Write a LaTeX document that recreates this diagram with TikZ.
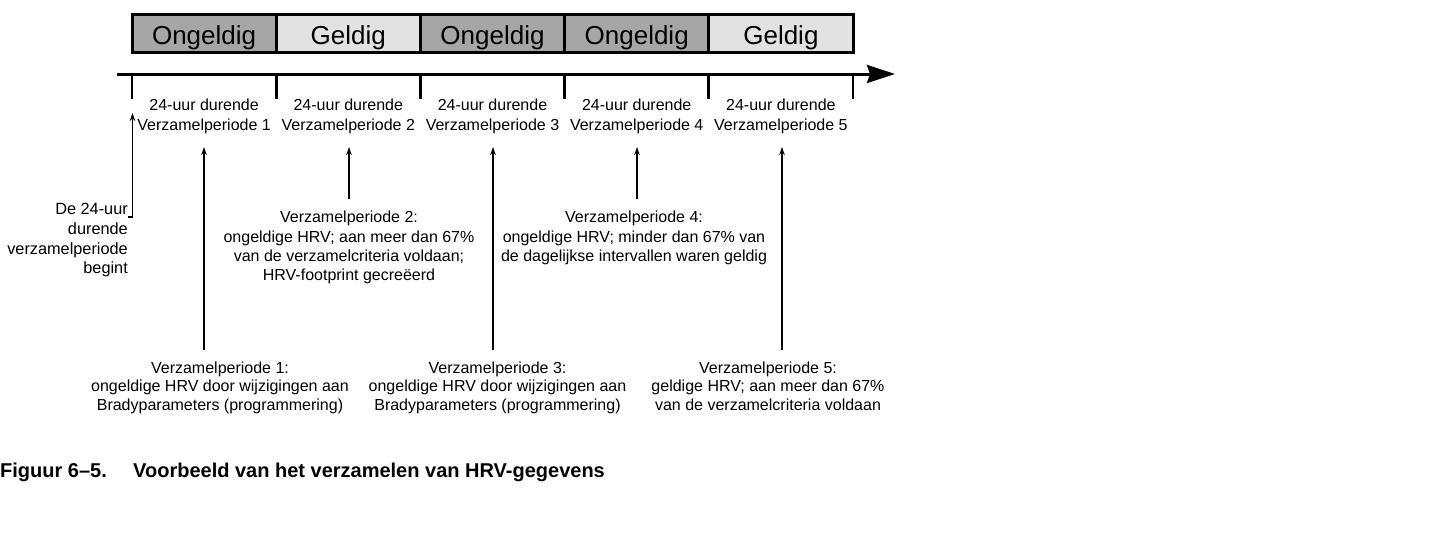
\documentclass[tikz,border=0pt]{standalone}
\usepackage{fontspec}
\setmainfont{Liberation Sans}
\usetikzlibrary{arrows.meta,calc}
\definecolor{ongc}{RGB}{166,166,166}
\definecolor{gelc}{RGB}{226,226,226}
\begin{document}
\begin{tikzpicture}[x=1pt,y=-1pt,
  stat/.style={draw=black, line width=3pt, minimum width=144.2pt, minimum height=38pt,
    inner sep=0pt, text height=22pt, text depth=0pt, font=\fontsize{26}{30}\selectfont},
  ong/.style={stat, fill=ongc},
  gel/.style={stat, fill=gelc},
  plabel/.style={align=center, inner sep=0pt, anchor=north, font=\fontsize{16}{20}\selectfont},
  ann/.style={align=center, inner sep=0pt, anchor=north, font=\fontsize{16}{19.3}\selectfont},
  annb/.style={align=center, inner sep=0pt, anchor=north, font=\fontsize{16}{18.5}\selectfont},
  arr/.style={line width=1.3pt, -{Stealth[length=8pt,width=5.5pt]}},
  tickmark/.style={line width=2.8pt},
]
\useasboundingbox (0,0) rectangle (1432,536);

% status boxes
\node[ong] (b1) at (204.1,33.5) {Ongeldig};
\node[gel] (b2) at (348.3,33.5) {Geldig};
\node[ong] (b3) at (492.5,33.5) {Ongeldig};
\node[ong] (b4) at (636.7,33.5) {Ongeldig};
\node[gel] (b5) at (780.9,33.5) {Geldig};

% timeline
\coordinate (ts) at (117,74);
\coordinate (te) at (895,74);
\draw[line width=3pt, -{Stealth[length=28pt,width=18pt,inset=3pt]}] (ts) -- (te);
\foreach \i in {0,...,5}{
  \draw[tickmark] ({132+144.2*\i},74) -- ({132+144.2*\i},99);
}

% period labels
\node[plabel] (p1) at (204.1,98.5) {24-uur durende\\Verzamelperiode 1};
\node[plabel] (p2) at (348.3,98.5) {24-uur durende\\Verzamelperiode 2};
\node[plabel] (p3) at (492.5,98.5) {24-uur durende\\Verzamelperiode 3};
\node[plabel] (p4) at (636.7,98.5) {24-uur durende\\Verzamelperiode 4};
\node[plabel] (p5) at (780.9,98.5) {24-uur durende\\Verzamelperiode 5};

% arrow tips
\coordinate (s0) at (132.5,113);
\coordinate (s1) at (204,147);
\coordinate (s2) at (349,147);
\coordinate (s3) at (493,147);
\coordinate (s4) at (637,147);
\coordinate (s5) at (782,147);

% start label
\node[align=right, anchor=north east, inner sep=0pt, font=\fontsize{16.3}{19.6}\selectfont]
  (b0) at (128,203.3) {De 24-uur\\durende\\verzamelperiode\\begint};
\draw[arr] ($(b0.north east)+(0,13.7)$) -| (s0);

% annotations
\node[annb] (v1) at (220,361.2) {Verzamelperiode 1:\\ongeldige HRV door wijzigingen aan\\Bradyparameters (programmering)};
\node[ann] (v2) at (349,211.2) {Verzamelperiode 2:\\ongeldige HRV; aan meer dan 67\%\\van de verzamelcriteria voldaan;\\HRV-footprint gecreëerd};
\node[annb] (v3) at (497.5,361.2) {Verzamelperiode 3:\\ongeldige HRV door wijzigingen aan\\Bradyparameters (programmering)};
\node[ann] (v4) at (634,211.2) {Verzamelperiode 4:\\ongeldige HRV; minder dan 67\% van\\de dagelijkse intervallen waren geldig};
\node[annb] (v5) at (768,361.2) {Verzamelperiode 5:\\geldige HRV; aan meer dan 67\%\\van de verzamelcriteria voldaan};

\draw[arr] ($(s1 |- v1.north)+(0,-11.2)$) -- (s1);
\draw[arr] ($(s2 |- v2.north)+(0,-12.2)$) -- (s2);
\draw[arr] ($(s3 |- v3.north)+(0,-11.2)$) -- (s3);
\draw[arr] ($(s4 |- v4.north)+(0,-12.2)$) -- (s4);
\draw[arr] ($(s5 |- v5.north)+(0,-11.2)$) -- (s5);

% caption
\node[anchor=base west, inner sep=0pt, font=\bfseries\fontsize{20}{24}\selectfont]
  (cap) at (0,477) {\makebox[133pt][l]{Figuur 6–5.}Voorbeeld van het verzamelen van HRV-gegevens};
\end{tikzpicture}
\end{document}
